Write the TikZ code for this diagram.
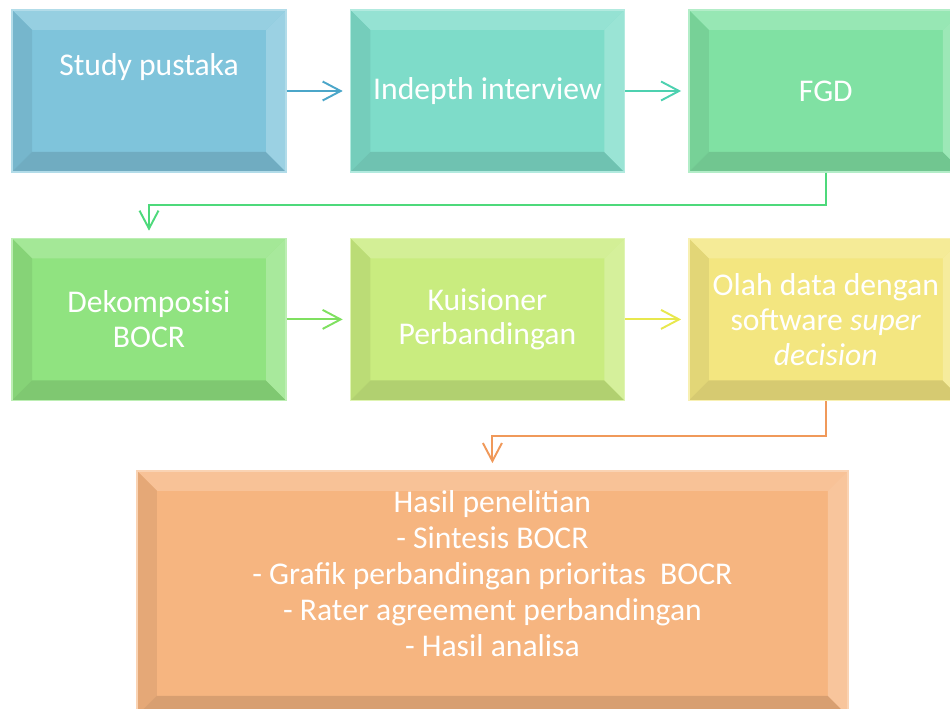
\documentclass[tikz,border=0pt]{standalone}
\usepackage{fontspec}
\setmainfont{Carlito}
\usepackage{tikz}
\usetikzlibrary{arrows.meta, positioning}

\definecolor{studyfill}{HTML}{7FC4DB}
\definecolor{indepthfill}{HTML}{7EDCC9}
\definecolor{fgdfill}{HTML}{80E1A3}
\definecolor{dekompfill}{HTML}{90E380}
\definecolor{kuisfill}{HTML}{C9EC7F}
\definecolor{olahfill}{HTML}{F3E680}
\definecolor{resultfill}{HTML}{F6B580}
\definecolor{arrowblue}{HTML}{4BA6C9}
\definecolor{arrowteal}{HTML}{4DD1B0}
\definecolor{arrowgreen}{HTML}{4DD97B}
\definecolor{arrowlime}{HTML}{7FE060}
\definecolor{arrowyellow}{HTML}{E8E84D}
\definecolor{arroworange}{HTML}{F0995A}

\newcommand{\bevw}{0.4cm}

\begin{document}
\begin{tikzpicture}[
    node distance=1.3cm and 1.26cm,
    box/.style={rectangle, draw=#1!60!white, line width=0.8pt, fill=#1, minimum width=5.48cm, minimum height=3.24cm, align=center, text=white, font=\fontsize{18}{19.8}\selectfont,
        path picture={
            \fill[#1!82!white] (path picture bounding box.north west) -- (path picture bounding box.north east) -- ++(-\bevw,-\bevw) -- ([shift={(\bevw,-\bevw)}]path picture bounding box.north west) -- cycle;
            \fill[#1!93!black] (path picture bounding box.north west) -- (path picture bounding box.south west) -- ++(\bevw,\bevw) -- ([shift={(\bevw,-\bevw)}]path picture bounding box.north west) -- cycle;
            \fill[#1!88!black] (path picture bounding box.south west) -- (path picture bounding box.south east) -- ++(-\bevw,\bevw) -- ([shift={(\bevw,\bevw)}]path picture bounding box.south west) -- cycle;
            \fill[#1!78!white] (path picture bounding box.north east) -- (path picture bounding box.south east) -- ++(-\bevw,\bevw) -- ([shift={(-\bevw,-\bevw)}]path picture bounding box.north east) -- cycle;
        }},
    txt/.style={align=center, text=white, font=\fontsize{18}{20.5}\selectfont},
    arrow/.style={draw=#1, line width=1.1pt, -{Straight Barb[length=3.6mm, width=3.8mm]}, shorten >=0.14cm},
]

\path[use as bounding box, clip] (0,0) rectangle (19,-14.18);

\node[box=studyfill] (study) at (2.98,-1.82) {};
\node[txt] (studytext) at ([yshift=0.48cm]study.center) {Study pustaka};
\node[box=indepthfill, right=of study] (indepth) {Indepth interview};
\node[box=fgdfill, right=of indepth] (fgd) {FGD};
\node[box=dekompfill, below=of study] (dekomp) {Dekomposisi\\BOCR};
\node[box=kuisfill, right=of dekomp] (kuis) {Kuisioner\\Perbandingan};
\node[box=olahfill, right=of kuis] (olah) {Olah data dengan\\software \textit{super}\\\textit{decision}};
\node[box=resultfill, minimum width=14.22cm, minimum height=4.9cm, below=1.38cm of kuis, xshift=0.1cm] (result) {};
\node[txt] (resulttext) at ([yshift=-2.07cm]result.north) {Hasil penelitian\\- Sintesis BOCR\\- Grafik perbandingan prioritas~ BOCR\\- Rater agreement perbandingan\\- Hasil analisa};

\draw[arrow=arrowblue] (study) -- (indepth);
\draw[arrow=arrowteal] (indepth) -- (fgd);
\draw[arrow=arrowgreen] (fgd.south) -- ++(0,-0.65) -| (dekomp.north);
\draw[arrow=arrowlime] (dekomp) -- (kuis);
\draw[arrow=arrowyellow] (kuis) -- (olah);
\draw[arrow=arroworange] (olah.south) -- ++(0,-0.7) -| (result.north);

\end{tikzpicture}
\end{document}
